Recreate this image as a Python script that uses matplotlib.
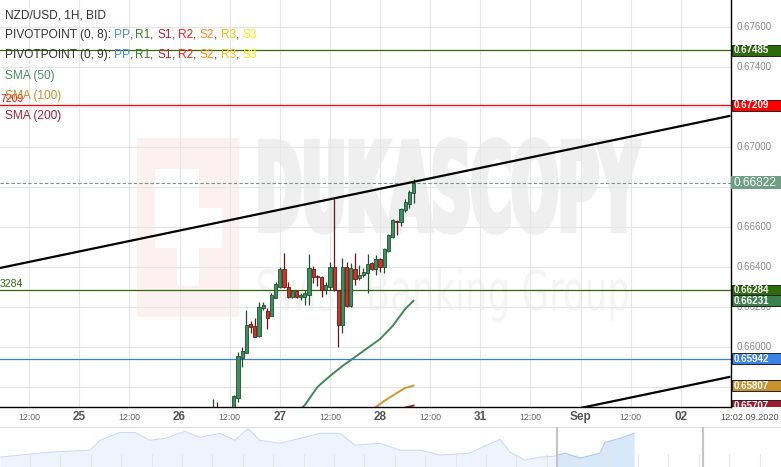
import matplotlib
matplotlib.use("Agg")
import matplotlib.pyplot as plt
from matplotlib.patches import Rectangle, PathPatch
from matplotlib.textpath import TextPath
from matplotlib.font_manager import FontProperties
from matplotlib.transforms import Affine2D, blended_transform_factory
import numpy as np

plt.rcParams['font.family'] = ['Liberation Sans', 'DejaVu Sans']

W, H = 781, 467

# NZD/USD 1H candles, x = hours after 25 Aug 2020 00:00
hours = list(range(32, 81))
opens = [0.6562, 0.6569, 0.6563, 0.6561, 0.6563, 0.6566, 0.65745, 0.65945, 0.6597, 0.66115,
         0.66105, 0.66055, 0.66195, 0.6618, 0.66155, 0.66245, 0.6630, 0.6639, 0.6630, 0.6625,
         0.6628, 0.6625, 0.6625, 0.6626, 0.6639, 0.66355, 0.6635, 0.66285, 0.6630, 0.6640,
         0.66285, 0.6611, 0.6640, 0.66205, 0.6639, 0.66345, 0.6636, 0.6637, 0.6642, 0.6639,
         0.6644, 0.6640, 0.6648, 0.6655, 0.6663, 0.66625, 0.66685, 0.66715, 0.6677]
highs = [0.6574, 0.65725, 0.6567, 0.6566, 0.6568, 0.6576, 0.65975, 0.6600, 0.66185, 0.6613,
         0.66145, 0.66225, 0.66225, 0.66195, 0.6627, 0.66325, 0.6640, 0.6647, 0.66325, 0.66285,
         0.66285, 0.6627, 0.66285, 0.66465, 0.66405, 0.6636, 0.66355, 0.66325, 0.66425, 0.6674,
         0.66285, 0.66445, 0.66425, 0.6642, 0.6647, 0.6641, 0.66395, 0.66465, 0.66425, 0.6646,
         0.66445, 0.66495, 0.66565, 0.6664, 0.66635, 0.66695, 0.6674, 0.66785, 0.6684]
lows = [0.6558, 0.6560, 0.6558, 0.6557, 0.6560, 0.6564, 0.65725, 0.6590, 0.6597, 0.6607,
        0.6605, 0.6605, 0.66185, 0.6609, 0.66155, 0.66245, 0.66295, 0.66295, 0.66245, 0.66245,
        0.66245, 0.66235, 0.6621, 0.6621, 0.6632, 0.66305, 0.6625, 0.66265, 0.66285, 0.6628,
        0.6600, 0.6607, 0.6620, 0.6620, 0.6631, 0.66335, 0.6635, 0.6627, 0.66385, 0.6636,
        0.66375, 0.6637, 0.66475, 0.66545, 0.6656, 0.66605, 0.66675, 0.66695, 0.6672]
closes = [0.6569, 0.6563, 0.6561, 0.6563, 0.6566, 0.65755, 0.65955, 0.6598, 0.6611, 0.6610,
          0.6605, 0.6620, 0.6621, 0.66145, 0.6626, 0.66315, 0.6639, 0.6630, 0.6625, 0.6628,
          0.6625, 0.6626, 0.6627, 0.66395, 0.6635, 0.6635, 0.66285, 0.6631, 0.6640, 0.66285,
          0.6611, 0.6640, 0.66205, 0.66395, 0.6634, 0.6636, 0.66375, 0.66415, 0.6639, 0.6644,
          0.6640, 0.6649, 0.6656, 0.66635, 0.66625, 0.6669, 0.66725, 0.66775, 0.66822]

# moving averages
sma50_h = [53, 54, 57, 60, 63, 66, 69, 72, 75, 78, 80]
sma50_v = [0.6569, 0.6571, 0.6580, 0.65855, 0.65905, 0.6595, 0.65995, 0.6604, 0.66105, 0.6619, 0.66231]
sma100_h = [71, 73, 76, 78, 80]
sma100_v = [0.6570, 0.6573, 0.6577, 0.65795, 0.65807]
sma200_h = [77, 78, 80]
sma200_v = [0.6569, 0.65697, 0.65707]

# trend channel
upper_h = [-19, 155.6]
upper_v = [0.66395, 0.67155]
lower_h = [100, 155.6]
lower_v = [0.65608, 0.6585]

# pivot levels
levels = [0.67485, 0.67209, 0.66284, 0.65942]
level_colors = ['#2d6a0c', '#ff0000', '#2d6a0c', '#3c7fd6']
last_price = 0.66822

# price tags on the right axis
tag_values = [0.67485, 0.67209, 0.66284, 0.66231, 0.65942, 0.65807, 0.65707]
tag_colors = ['#2d6a0c', '#ff0000', '#2d6a0c', '#3d7f4e', '#3c82e6', '#c8912f', '#9e1a32']

yticks = [0.658, 0.660, 0.662, 0.664, 0.666, 0.668, 0.670, 0.672, 0.674, 0.676]
ytick_shown = [0.660, 0.662, 0.664, 0.666, 0.670, 0.674, 0.676]
tick_hours = [-12, 0, 12, 24, 36, 48, 60, 72, 84, 96, 108, 120, 132, 144]
tick_labels = ['12:00', '25', '12:00', '26', '12:00', '27', '12:00', '28',
               '12:00', '31', '12:00', 'Sep', '12:00', '02']

# navigator overview
nav_x = np.array([0, 50, 90, 100, 120, 135, 150, 165, 185, 200, 220, 235, 248, 260, 280, 300,
                  320, 340, 355, 380, 400, 420, 440, 470, 480, 500, 510, 525, 540, 555, 557,
                  565, 580, 600, 605, 620, 634])
nav_y = np.array([10, 15, 17, 27, 35, 35, 27, 29, 36, 30, 34, 27, 39, 27, 24, 29,
                  34, 34, 22, 24, 17, 17, 12, 14, 19, 28, 15, 7, 10, 11, 12,
                  14, 9, 14, 25, 29, 34])

fig = plt.figure(figsize=(W / 100, H / 100), dpi=100)
fig.patch.set_facecolor('white')
ax = fig.add_axes([0, 60 / H, 731 / W, 407 / H])
ax.set_xlim(-18.98, 155.57)
ax.set_ylim(0.657, 0.67735)
ax.set_xticks(range(-12, 157, 12))
ax.set_yticks(yticks)
ax.tick_params(length=0, labelbottom=False, labelleft=False)
ax.grid(True, color='#e6e6e6', lw=0.8)
for s in ['top', 'left']:
    ax.spines[s].set_visible(False)
for s in ['right', 'bottom']:
    ax.spines[s].set_color('black')
    ax.spines[s].set_linewidth(1.0)

# watermark (pixel coordinates, top-down)
pix = Affine2D().scale(1, -1).translate(0, H)
ax.add_patch(Rectangle((137, 138), 102, 179, transform=pix, fc='#fdf0f0', ec='none', zorder=0.5))
for (x, y, w, h) in [(155, 169, 43, 39), (155, 208, 67, 40), (177, 169, 22, 117)]:
    ax.add_patch(Rectangle((x, y), w, h, transform=pix, fc='white', ec='none', zorder=0.6))


def word(txt, box, color, weight, stroke):
    left, top, right, bottom = box
    p = TextPath((0, 0), txt, size=100, prop=FontProperties(family='DejaVu Sans', weight=weight))
    e = p.get_extents()
    tr = Affine2D().translate(-e.x0, -e.y0).scale((right - left) / e.width, (bottom - top) / e.height)
    tr = tr.translate(left, H - bottom)
    ax.add_patch(PathPatch(p, transform=tr, fc=color, ec=color, lw=stroke, zorder=0.5))


word('DUKASCOPY', (261, 140, 639, 232), '#efefef', 'bold', 4)
word('Swiss Banking Group', (258, 268, 628, 322), '#f4f4f4', 'normal', 0)

# levels
for v, c in zip(levels, level_colors):
    ax.axhline(v, color=c, lw=0.9, zorder=2)
ax.axhline(last_price, color='#6a9e80', lw=0.8, ls=(0, (3, 2)), zorder=2)

# moving averages
ax.plot(sma50_h, sma50_v, color='#3f8a55', lw=1.4, zorder=2.5)
ax.plot(sma100_h, sma100_v, color='#d4962c', lw=1.4, zorder=2.5)
ax.plot(sma200_h, sma200_v, color='#a3213c', lw=1.4, zorder=2.5)

# candles
for h, o, hi, lo, c in zip(hours, opens, highs, lows, closes):
    up = c >= o
    face = '#3e8e5e' if up else '#c0392b'
    edge = '#1f4f31' if up else '#6e1414'
    ax.vlines(h, lo, hi, color=edge, lw=0.9, zorder=3)
    ax.add_patch(Rectangle((h - 0.38, min(o, c)), 0.76, max(abs(c - o), 0.00004),
                           fc=face, ec=edge, lw=0.6, zorder=3.2))

# trend channel
ax.plot(upper_h, upper_v, color='black', lw=1.6, zorder=3.5)
ax.plot(lower_h, lower_v, color='black', lw=1.6, zorder=3.5)

# clipped level labels on the left
ax.text(-18.95, 0.67209 + 0.00004, '7209', color='#ff0000', fontsize=7.5, va='bottom', ha='left')
ax.text(-18.95, 0.66284 + 0.00004, '3284', color='#2d6a0c', fontsize=7.5, va='bottom', ha='left')

# x labels
xt = blended_transform_factory(ax.transData, fig.transFigure)
for h, lab in zip(tick_hours, tick_labels):
    if lab == '12:00':
        ax.text(h, 1 - 417 / H, lab, transform=xt, ha='center', va='center',
                fontsize=6.3, color='#666666', clip_on=False)
    else:
        ax.text(h, 1 - 417 / H, lab, transform=xt, ha='center', va='center',
                fontsize=8.5, color='#555555', fontweight='bold', clip_on=False)
fig.text(750 / W, 1 - 417 / H, '12:02.09.2020', ha='center', va='center', fontsize=6.6, color='#555555')

# right price scale
ax_r = fig.add_axes([731 / W, 60 / H, 50 / W, 407 / H])
ax_r.set_xlim(0, 50)
ax_r.set_ylim(ax.get_ylim())
ax_r.axis('off')
for v in ytick_shown:
    ax_r.text(6, v, f'{v:.5f}', fontsize=7, color='#8c8c8c', va='center', ha='left')
px = 0.00005
for v, c in zip(tag_values, tag_colors):
    ax_r.add_patch(Rectangle((0.5, v - 5.5 * px), 49, 11 * px, fc=c, ec='#222222', lw=0.7, zorder=3))
    ax_r.text(3, v, f'{v:.5f}', fontsize=7, color='white', fontweight='bold', va='center', ha='left', zorder=4)
ax_r.add_patch(Rectangle((0, last_price - 6.5 * px), 49.5, 13 * px, fc='#6fa084', ec='none', zorder=3))
ax_r.text(3, last_price, f'{last_price:.5f}', fontsize=8.6, color='white', va='center', ha='left', zorder=4)

# navigator
ax_n = fig.add_axes([0, 0, 1, 40 / H])
ax_n.set_xlim(0, 781)
ax_n.set_ylim(0, 40.5)
ax_n.axis('off')
ax_n.axhline(40, color='#e0e0e0', lw=0.8)
ax_n.vlines(np.arange(30, 781, 30.4), 0, 13, color='#e6e6e6', lw=0.8)
ax_n.fill_between(nav_x, 0, nav_y, color='#eef4fd', lw=0)
sel = nav_x >= 557
ax_n.fill_between(nav_x[sel], 0, nav_y[sel], color='#d9e7fb', lw=0)
ax_n.plot(nav_x[~sel | (nav_x == 557)], nav_y[~sel | (nav_x == 557)], color='#c9dcf6', lw=0.8)
ax_n.plot(nav_x[sel], nav_y[sel], color='#a9c8f2', lw=0.8)
ax_n.vlines([557, 703], 0, 40, color='#c4c4c4', lw=1.5)

# legend text top-left
fig.canvas.draw()
renderer = fig.canvas.get_renderer()


def adv(s):
    t = fig.text(0, 0, s + 'x', fontsize=8.6)
    t2 = fig.text(0, 0, 'x', fontsize=8.6)
    w = t.get_window_extent(renderer).width - t2.get_window_extent(renderer).width
    t.remove()
    t2.remove()
    return w


def line(y, pieces, x0=5):
    prefix = ''
    for s, c in pieces:
        fig.text((x0 + adv(prefix)) / W, 1 - y / H, s, color=c, fontsize=8.6, va='center', ha='left')
        prefix += s


dark = '#333333'
piv = [('PP', '#4a90e2'), ('R1', '#3a7d2a'), ('S1', '#b22234'), ('R2', '#ff2222'),
       ('S2', '#ff8c1a'), ('R3', '#ffc000'), ('S3', '#ffee00')]
line(15, [('NZD/USD, 1H, BID', dark)])
for y, n in [(35, 8), (55, 9)]:
    pieces = [(f'PIVOTPOINT (0, {n}): ', dark)]
    for i, (s, c) in enumerate(piv):
        pieces.append((s, c))
        if i < len(piv) - 1:
            pieces.append((', ', dark))
    line(y, pieces)
line(76, [('SMA (50)', '#4a8f5f')])
line(96, [('SMA (100)', '#c89132')])
line(116, [('SMA (200)', '#a0263c')])

fig.savefig('out.png', dpi=100, facecolor='white')
